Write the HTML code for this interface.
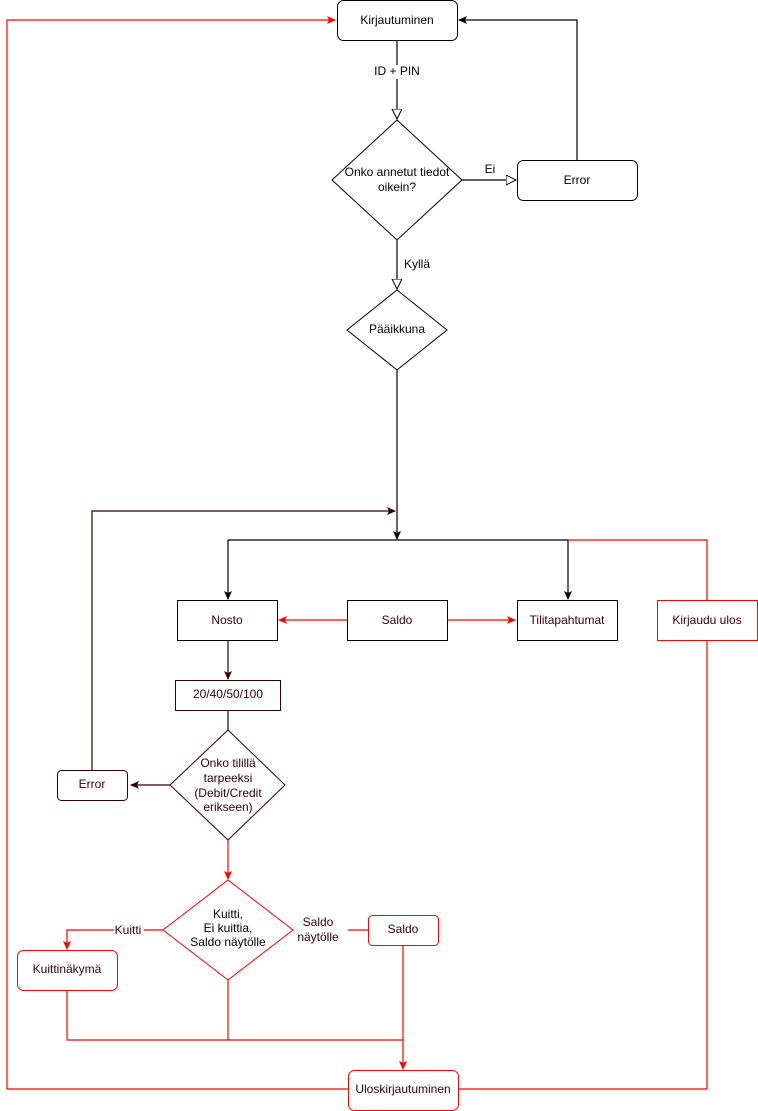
<!DOCTYPE html>
<html><head><meta charset="utf-8"><style>body{margin:0;background:#fff}svg{display:block}text{font-family:"Liberation Sans",sans-serif;font-size:12px;text-anchor:middle;dominant-baseline:middle}</style></head><body>
<svg width="758" height="1111" viewBox="0 0 758 1111" xmlns="http://www.w3.org/2000/svg">
<defs>
<marker id="ab" markerWidth="10" markerHeight="10" refX="8" refY="5" orient="auto" markerUnits="userSpaceOnUse"><path d="M0,1 L9,5 L0,9 L2,5z" fill="#000"/></marker>
<marker id="ad" markerWidth="10" markerHeight="10" refX="8" refY="5" orient="auto" markerUnits="userSpaceOnUse"><path d="M0,1 L9,5 L0,9 L2,5z" fill="#330000"/></marker>
<marker id="ar" markerWidth="10" markerHeight="10" refX="8" refY="5" orient="auto" markerUnits="userSpaceOnUse"><path d="M0,1 L9,5 L0,9 L2,5z" fill="#f00"/></marker>
<marker id="ao" markerWidth="12" markerHeight="12" refX="10" refY="5" orient="auto" markerUnits="userSpaceOnUse"><path d="M0,0 L10,5 L0,10z" fill="#fff" stroke="#000"/></marker>
</defs>
<g fill="none" stroke-width="1.2">
<!-- black -->
<path d="M397,40 V119" stroke="#000" marker-end="url(#ao)"/>
<path d="M462,180 H516" stroke="#000" marker-end="url(#ao)"/>
<path d="M577,160 V20 H459" stroke="#000" marker-end="url(#ab)"/>
<path d="M397,240 V289" stroke="#000" marker-end="url(#ao)"/>
<path d="M397,370 V539" stroke="#000" marker-end="url(#ab)"/>
<path d="M228,540 H568" stroke="#000"/>
<path d="M228,540 V599" stroke="#000" marker-end="url(#ab)"/>
<path d="M568,540 V599" stroke="#000" marker-end="url(#ab)"/>
<!-- dark -->
<path d="M228,640 V679" stroke="#330000" marker-end="url(#ad)"/>
<path d="M228,710 V730" stroke="#330000"/>
<path d="M170,785 H131" stroke="#330000" marker-end="url(#ad)"/>
<path d="M92,770 V511 H395" stroke="#330000" marker-end="url(#ad)"/>
<!-- red -->
<path d="M568,540 H707 V1089 H459" stroke="#f00"/>
<path d="M347,620 H279" stroke="#f00" marker-end="url(#ar)"/>
<path d="M447,620 H515" stroke="#f00" marker-end="url(#ar)"/>
<path d="M228,840 V879" stroke="#f00" marker-end="url(#ar)"/>
<path d="M163,930 H67 V949" stroke="#f00" marker-end="url(#ar)"/>
<path d="M348,930 H368" stroke="#f00"/>
<path d="M403,945 V1069" stroke="#f00" marker-end="url(#ar)"/>
<path d="M67,990 V1040 H403" stroke="#f00"/>
<path d="M228,980 V1040" stroke="#f00"/>
<path d="M348,1089 H7 V20 H335" stroke="#f00" marker-end="url(#ar)"/>
</g>
<g fill="#fff" stroke-width="1">
<rect x="337.5" y="0.5" width="120" height="40" rx="6" stroke="#000"/>
<polygon points="397,120 462,180 397,240 332,180" stroke="#000"/>
<rect x="517.5" y="160.5" width="120" height="40" rx="6" stroke="#000"/>
<polygon points="397,290 447,330 397,370 347,330" stroke="#000"/>
<rect x="177.5" y="600.5" width="100" height="40" stroke="#000"/>
<rect x="347.5" y="600.5" width="100" height="40" stroke="#000"/>
<rect x="517.5" y="600.5" width="100" height="40" stroke="#000"/>
<rect x="657.5" y="600.5" width="100" height="40" stroke="#f00"/>
<rect x="175.5" y="680.5" width="105" height="30" stroke="#330000"/>
<polygon points="228,730 285,785 228,840 170,785" stroke="#330000"/>
<rect x="57.5" y="770.5" width="70" height="30" rx="4" stroke="#330000"/>
<polygon points="228,880 293,930 228,980 163,930" stroke="#f00"/>
<rect x="17.5" y="950.5" width="100" height="40" rx="6" stroke="#f00"/>
<rect x="368.5" y="915.5" width="70" height="30" rx="4" stroke="#f00"/>
<rect x="348.5" y="1070.5" width="110" height="40" rx="6" stroke="#f00"/>
<rect x="375" y="65" width="46" height="14" stroke="none"/>
<rect x="114" y="923" width="30" height="14" stroke="none"/>
</g>
<g fill="#000">
<text x="397" y="21">Kirjautuminen</text>
<text x="397" y="72" font-size="11">ID + PIN</text>
<text x="397" y="173">Onko annetut tiedot</text>
<text x="397" y="188">oikein?</text>
<text x="490" y="170" font-size="11">Ei</text>
<text x="577" y="181">Error</text>
<text x="417" y="265" font-size="11">Kyllä</text>
<text x="397" y="330">Pääikkuna</text>
</g>
<g fill="#330000">
<text x="227" y="621">Nosto</text>
<text x="397" y="621">Saldo</text>
<text x="567" y="621">Tilitapahtumat</text>
<text x="707" y="621">Kirjaudu ulos</text>
<text x="228" y="695">20/40/50/100</text>
<text x="228" y="764">Onko tilillä</text>
<text x="228" y="779">tarpeeksi</text>
<text x="228" y="794">(Debit/Credit</text>
<text x="228" y="808">erikseen)</text>
<text x="92" y="785">Error</text>
<text x="228" y="915" fill="#000">Kuitti,</text>
<text x="228" y="929" fill="#000">Ei kuittia,</text>
<text x="228" y="943" fill="#000">Saldo näytölle</text>
<text x="128" y="931">Kuitti</text>
<text x="318" y="923">Saldo</text>
<text x="318" y="938">näytölle</text>
<text x="67" y="970">Kuittinäkymä</text>
<text x="403" y="930">Saldo</text>
<text x="403" y="1090">Uloskirjautuminen</text>
</g>
</svg>
</body></html>
